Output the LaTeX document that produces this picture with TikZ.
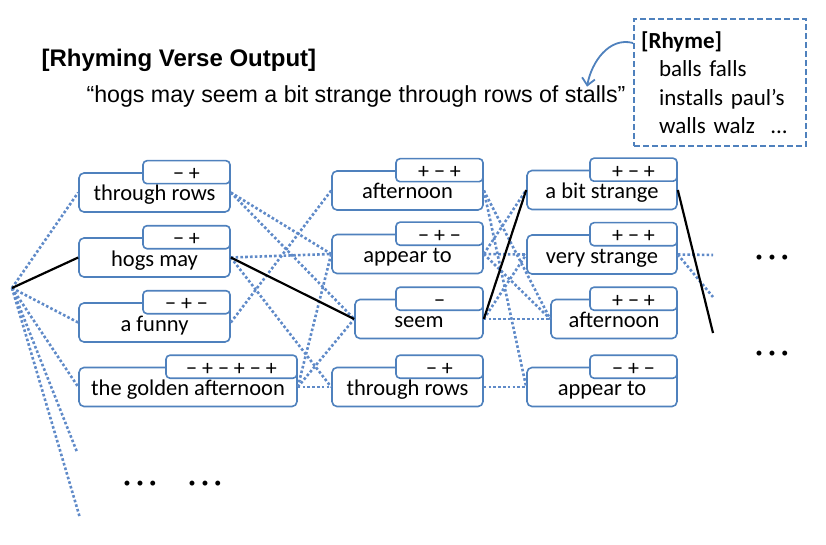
\documentclass[tikz,border=0pt]{standalone}
\usepackage{fontspec}
\setmainfont{Carlito}
\newfontfamily\arial{Liberation Sans}
\usetikzlibrary{arrows.meta}
\definecolor{bleu}{RGB}{79,129,189}
\definecolor{bleupt}{RGB}{95,138,200}

\tikzset{
  mot/.style={draw=bleu, line width=1.6pt, rounded corners=5pt, fill=white,
    minimum height=39pt, inner sep=2pt, font=\fontsize{22.5}{24}\selectfont,
    text height=19pt, text depth=2pt},
  signe/.style={draw=bleu, line width=1.6pt, rounded corners=4pt, fill=white,
    minimum height=23pt, minimum width=87pt, inner sep=0pt, anchor=east,
    font=\fontsize{22}{24}\selectfont, text height=17pt, text depth=0pt},
  lien/.style={draw=bleupt, line width=2.6pt, dash pattern=on 2.6pt off 2.2pt},
  chemin/.style={draw=black, line width=2.2pt},
  fleche/.style={draw=bleu, line width=1.8pt, -{Straight Barb[length=7pt,width=13pt]}},
  etc/.style={font=\fontsize{14}{14}\selectfont, inner sep=0pt},
}

\begin{document}
\begin{tikzpicture}[x=1pt, y=-1pt]
\useasboundingbox (0,0) rectangle (826,545);

% Titre et vers produit
\node[font=\arial\bfseries\fontsize{24}{26}\selectfont, anchor=west] (titre) at (38,60) {[Rhyming Verse Output]};
\node[font=\arial\fontsize{23.2}{25}\selectfont, anchor=west] (vers) at (83,97) {“hogs may seem a bit strange through rows of stalls”};

% Cadre des rimes
\node[draw=bleu, line width=2.2pt, dash pattern=on 6pt off 3pt, anchor=north west,
  minimum width=172pt, minimum height=127pt, text width=158pt, inner xsep=7pt,
  align=left, font=\fontsize{23}{28.5}\selectfont] (rime) at (633,18)
  {\textbf{[Rhyme]}\\\hspace*{18pt}balls falls\\\hspace*{18pt}installs paul’s\\\hspace*{18pt}walls walz\ \ ...};
\draw[fleche] ([yshift=-25pt]rime.north west) to[out=165,in=80] ([xshift=-42pt,yshift=-4pt]vers.north east);

% Points libres
\coordinate (racine) at (12,288);
\coordinate (bas1) at (77,452);
\coordinate (bas2) at (80,518);
\coordinate (fin1) at (713,255);
\coordinate (fin2) at (713,297);
\coordinate (fin3) at (713,333);

% Colonne 1
\node[mot, minimum width=151pt] (m11) at (154.5,192.5) {through rows};
\node[signe] (s11) at (m11.north east) {− +};
\node[mot, minimum width=151pt] (m12) at (154.5,257.5) {hogs may};
\node[signe] (s12) at (m12.north east) {− +};
\node[mot, minimum width=151pt] (m13) at (154.5,322.5) {a funny};
\node[signe] (s13) at (m13.north east) {− + −};
\node[mot, minimum width=218pt] (m14) at (188,387) {the golden afternoon};
\node[signe, minimum width=131pt] (s14) at (m14.north east) {− + − + − +};

% Colonne 2
\node[mot, minimum width=151pt] (m21) at (407.5,190.5) {afternoon};
\node[signe] (s21) at (m21.north east) {+ − +};
\node[mot, minimum width=151pt] (m22) at (407.5,254) {appear to};
\node[signe] (s22) at (m22.north east) {− + −};
\node[mot, minimum width=128pt] (m23) at (419,319) {seem};
\node[signe] (s23) at (m23.north east) {−};
\node[mot, minimum width=151pt] (m24) at (407.5,387) {through rows};
\node[signe] (s24) at (m24.north east) {− +};

% Colonne 3
\node[mot, minimum width=150pt] (m31) at (602,190) {a bit strange};
\node[signe] (s31) at (m31.north east) {+ − +};
\node[mot, minimum width=150pt] (m32) at (602,254.5) {very strange};
\node[signe] (s32) at (m32.north east) {+ − +};
\node[mot, minimum width=126pt] (m33) at (614,319) {afternoon};
\node[signe] (s33) at (m33.north east) {+ − +};
\node[mot, minimum width=150pt] (m34) at (602,387) {appear to};
\node[signe] (s34) at (m34.north east) {− + −};

% Suites
\node[etc] (etc1) at (772,258) {•\hspace{6pt}•\hspace{6pt}•};
\node[etc] (etc2) at (772,354) {•\hspace{6pt}•\hspace{6pt}•};
\node[etc] (etc3) at (140,484) {•\hspace{6pt}•\hspace{6pt}•};
\node[etc] (etc4) at (205,484) {•\hspace{6pt}•\hspace{6pt}•};

% Liens pointillés
\draw[lien] (racine) -- (m11.west);
\draw[lien] (racine) -- (m13.west);
\draw[lien] (racine) -- (m14.west);
\draw[lien] (racine) -- (bas1);
\draw[lien] (racine) -- (bas2);
\draw[lien] (m11.east) -- (m22.west);
\draw[lien] (m11.east) -- (m23.west);
\draw[lien] (m12.east) -- (m22.west);
\draw[lien] (m12.east) -- (m24.west);
\draw[lien] (m13.east) -- (m21.west);
\draw[lien] (m14.east) -- (m22.west);
\draw[lien] (m14.east) -- (m23.west);
\draw[lien] (m14.east) -- (m24.west);
\draw[lien] (m21.east) -- (m33.west);
\draw[lien] (m21.east) -- (m34.west);
\draw[lien] (m22.east) -- (m31.west);
\draw[lien] (m22.east) -- (m32.west);
\draw[lien] (m22.east) -- (m33.west);
\draw[lien] (m23.east) -- (m32.west);
\draw[lien] (m23.east) -- (m33.west);
\draw[lien] (m24.east) -- (m34.west);
\draw[lien] (m32.east) -- (fin1);
\draw[lien] (m32.east) -- (fin2);

% Chemin retenu
\draw[chemin] (racine) -- (m12.west);
\draw[chemin] (m12.east) -- (m23.west);
\draw[chemin] (m23.east) -- (m31.west);
\draw[chemin] (m31.east) -- (fin3);
\end{tikzpicture}
\end{document}
